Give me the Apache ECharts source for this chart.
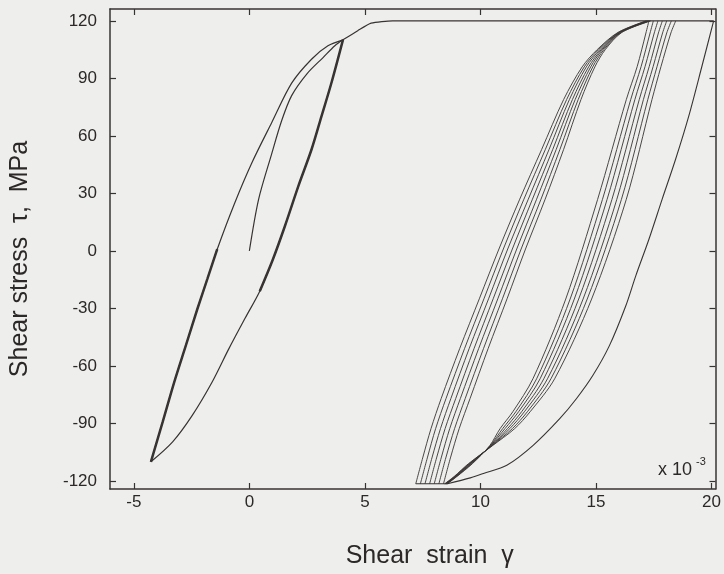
<!DOCTYPE html>
<html><head><meta charset="utf-8">
<script src="https://cdn.jsdelivr.net/npm/echarts@6/dist/echarts.min.js"></script>
<style>html,body{margin:0;padding:0;background:#eeeeec}#chart{width:724px;height:574px}</style>
</head><body><div id="chart"></div>
<script>
// ---- tick labels ----
const xTicks = [-5, 0, 5, 10, 15, 20];
const yTicks = [-120, -90, -60, -30, 0, 30, 60, 90, 120];

// ---- left hysteresis loop (strain x1e-3, stress MPa) ----
const initialLoading = [[0,0],[0.4,26.9],[0.95,50],[1.4,68],[1.83,81],[2.5,92.5],[3.2,101],[3.7,107],[4.05,110.1]];
const leftLoading = [[-4.26,-110],[-3.75,-89.2],[-3.25,-68.4],[-2.75,-49.4],[-2.25,-30.3],[-1.82,-14.7],[-1.39,0.9],[-0.65,24.5],[0.11,46],[0.97,67],[1.83,87.5],[2.69,100],[3.4,107],[4.05,110.1]];
const leftUnloading = [[4.05,110.1],[3.55,87.6],[3.12,70.2],[2.69,52.9],[2.12,33.8],[1.54,13],[1.0,-5],[0.45,-21],[-0.18,-35],[-0.89,-51.1],[-1.61,-68.4],[-2.47,-85.8],[-3.32,-99.6],[-4.26,-110]];

// ---- flow at the upper limit and big unloading ----
const plateauTop = [[4.05,110.1],[4.69,114.9],[5.27,118.8],[6.2,120],[20.09,120]];
const rightUnloading = [[20.09,120],[19.58,96.2],[19.01,70.2],[18.44,47.7],[17.86,26.9],[17.29,6.1],[16.72,-13.0],[16.29,-28.6],[15.58,-49.4],[14.86,-65.0],[14.15,-77.1],[13.43,-87.5],[12.28,-101.4],[11.14,-111.8],[10.13,-116.1],[9.56,-118.4],[8.57,-121.5]];
const plateauBottom = [[8.57,-121.5],[7.2,-121.5]];

// ---- ratcheting cycles: loading bundle A ----
const aStress = [-121.5,-108,-92.7,-77,-51,-25,1,27,53,79,96,105,114,120];
const aStrain = [
  [7.20,7.50,7.86,8.30,9.10,9.95,10.80,11.70,12.65,13.60,14.40,15.05,15.95,17.17],
  [7.40,7.70,8.06,8.51,9.31,10.15,10.99,11.88,12.81,13.73,14.49,15.11,15.98,17.20],
  [7.60,7.90,8.27,8.72,9.51,10.35,11.18,12.07,12.97,13.85,14.58,15.17,16.01,17.24],
  [7.80,8.10,8.47,8.93,9.72,10.55,11.38,12.25,13.13,13.98,14.68,15.23,16.04,17.27],
  [8.00,8.30,8.67,9.13,9.92,10.75,11.57,12.43,13.28,14.10,14.77,15.28,16.06,17.30],
  [8.20,8.50,8.88,9.34,10.13,10.95,11.76,12.62,13.44,14.23,14.86,15.34,16.09,17.34],
  [8.40,8.70,9.08,9.55,10.33,11.15,11.95,12.80,13.60,14.35,14.95,15.40,16.12,17.37]
];
// ---- ratcheting cycles: unloading bundle B ----
const bStress = [120,113.7,96.1,78.9,26.9,-25.1,-66.7,-83.9,-92.7,-101.6,-111,-117.7,-121.5];
const bStrain = [
  [17.29,17.16,16.78,16.31,15.07,13.69,12.27,11.40,10.85,10.40,9.65,8.98,8.57],
  [17.48,17.34,16.95,16.50,15.28,13.88,12.43,11.53,10.96,10.42,9.62,8.96,8.55],
  [17.68,17.52,17.12,16.68,15.48,14.06,12.58,11.65,11.06,10.44,9.59,8.94,8.53],
  [17.87,17.70,17.30,16.87,15.69,14.25,12.74,11.78,11.17,10.46,9.56,8.92,8.51],
  [18.06,17.88,17.47,17.05,15.90,14.44,12.90,11.90,11.27,10.48,9.54,8.90,8.49],
  [18.26,18.06,17.64,17.24,16.10,14.62,13.05,12.03,11.38,10.50,9.51,8.88,8.47],
  [18.45,18.24,17.81,17.42,16.31,14.81,13.21,12.15,11.48,10.52,9.48,8.86,8.45]
];

const INK = '#383333';
const FONT = '"Liberation Sans", Arial, Helvetica, sans-serif';

function line(data, width, smooth) {
  return {
    type: 'line', data: data, showSymbol: false, symbol: 'none', silent: true,
    smooth: smooth === undefined ? 0.3 : smooth,
    lineStyle: { color: INK, width: width }, z: 3
  };
}

const series = [
  line(initialLoading, 1.2),
  line(leftLoading, 1.2),
  line(leftUnloading, 1.2),
  line(leftLoading.slice(0, 7), 2.5),
  line(leftUnloading.slice(0, 8), 2.5),
  line(plateauTop, 1.2, 0.2),
  line(rightUnloading, 1.1),
  line(plateauBottom, 1.1, false)
];
aStrain.forEach(s => series.push(line(s.map((x, i) => [x, aStress[i]]), 0.9)));
bStrain.forEach(s => series.push(line(s.map((x, i) => [x, bStress[i]]), 0.9)));

const axisLineStyle = { color: INK, width: 1.5 };
const xCommon = { type: 'value', min: -6.03, max: 20.17, splitLine: { show: false },
  axisLine: { show: true, onZero: false, lineStyle: axisLineStyle } };
const yCommon = { type: 'value', min: -124.2, max: 126.2, splitLine: { show: false },
  axisLine: { show: true, onZero: false, lineStyle: axisLineStyle } };

const chart = echarts.init(document.getElementById('chart'), null, { renderer: 'canvas' });
chart.setOption({
  animation: false,
  backgroundColor: '#eeeeec',
  grid: { left: 107, top: 9, width: 610, height: 481.5, containLabel: false },
  xAxis: [
    Object.assign({}, xCommon, {
      position: 'bottom',
      axisTick: { show: true, inside: true, length: 6, customValues: xTicks, lineStyle: { color: INK, width: 1.2 } },
      axisLabel: { show: true, customValues: xTicks, margin: 5, fontSize: 17, color: '#2c2828', fontFamily: FONT },
      name: 'Shear  strain  \u03b3', nameLocation: 'middle', nameGap: 55,
      nameTextStyle: { fontSize: 25, color: '#2c2828', fontFamily: FONT, padding: [0, 0, 0, 34] }
    }),
    Object.assign({}, xCommon, {
      position: 'top',
      axisTick: { show: true, inside: true, length: 6, customValues: xTicks, lineStyle: { color: INK, width: 1.2 } },
      axisLabel: { show: false }
    })
  ],
  yAxis: [
    Object.assign({}, yCommon, {
      position: 'left',
      axisTick: { show: true, inside: true, length: 6, customValues: yTicks, lineStyle: { color: INK, width: 1.2 } },
      axisLabel: { show: true, customValues: yTicks, margin: 13, fontSize: 17, color: '#2c2828', fontFamily: FONT },
      name: 'Shear stress  \u03c4,  MPa', nameLocation: 'middle', nameGap: 77,
      nameTextStyle: { fontSize: 25, color: '#2c2828', fontFamily: FONT, padding: [0, 20, 0, 0] }
    }),
    Object.assign({}, yCommon, {
      position: 'right',
      axisTick: { show: true, inside: true, length: 6, customValues: yTicks, lineStyle: { color: INK, width: 1.2 } },
      axisLabel: { show: false }
    })
  ],
  graphic: [
    { type: 'text', left: 658, top: 461, silent: true,
      style: { text: 'x 10', fontSize: 18, fill: '#2c2828', fontFamily: FONT } },
    { type: 'text', left: 696, top: 456, silent: true,
      style: { text: '-3', fontSize: 11, fill: '#2c2828', fontFamily: FONT } }
  ],
  series: series
});
</script></body></html>
